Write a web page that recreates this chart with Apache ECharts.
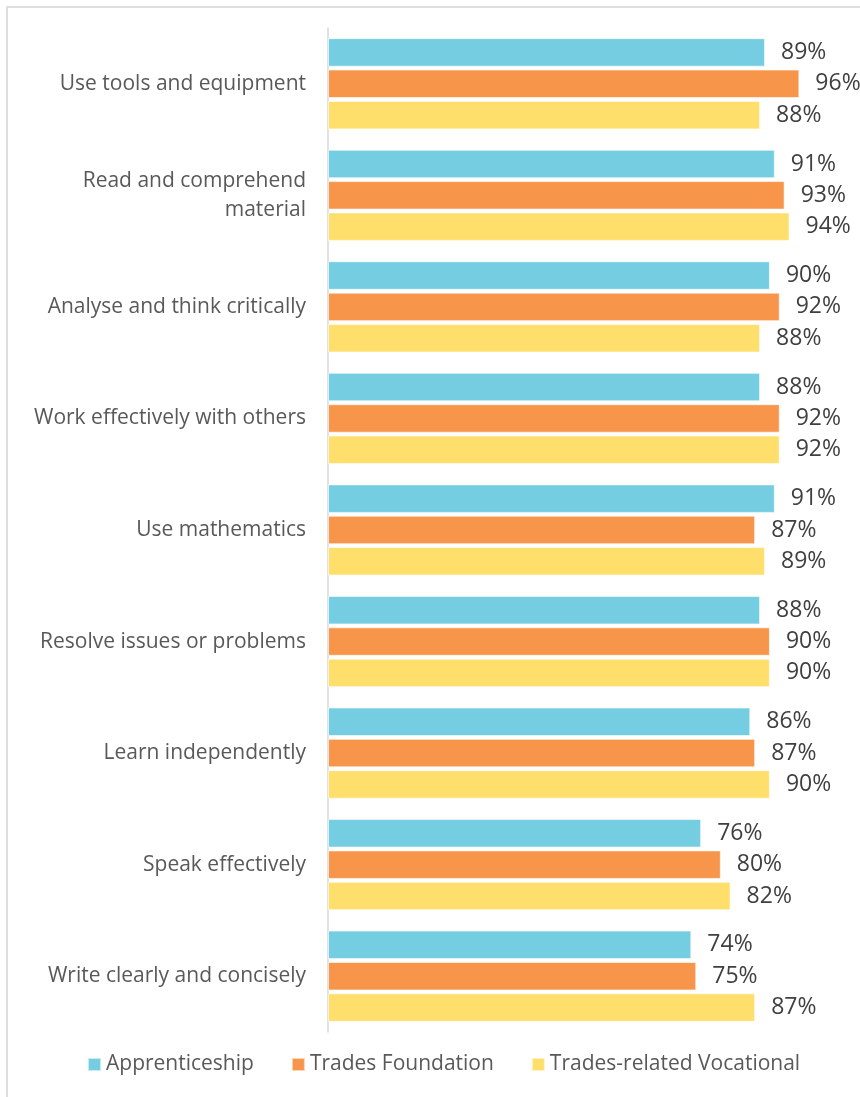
<!DOCTYPE html>
<html>
<head>
<meta charset="utf-8">
<title>Skills by programme</title>
<script src="https://cdn.jsdelivr.net/npm/echarts@6/dist/echarts.min.js"></script>
<style>
  html, body {
    margin: 0;
    padding: 0;
    background: #fff;
    overflow: hidden;
  }
  .frame {
    position: absolute;
    left: 6px;
    top: 6px;
    width: 1000px;
    height: 1200px;
    border: 2px solid #dedede;
  }
  #chart {
    position: absolute;
    left: 0;
    top: 0;
    width: 860px;
    height: 1097px;
  }
</style>
</head>
<body>
<div class="frame"></div>
<div id="chart"></div>
<script>
  // skills, top to bottom as shown
  var categories = [
    'Use tools and equipment',
    'Read and comprehend\nmaterial',
    'Analyse and think critically',
    'Work effectively with others',
    'Use mathematics',
    'Resolve issues or problems',
    'Learn independently',
    'Speak effectively',
    'Write clearly and concisely'
  ];
  var seriesNames = ['Apprenticeship', 'Trades Foundation', 'Trades-related Vocational'];
  var apprenticeship = [89, 91, 90, 88, 91, 88, 86, 76, 74];
  var tradesFoundation = [96, 93, 92, 92, 87, 90, 87, 80, 75];
  var tradesVocational = [88, 94, 88, 92, 89, 90, 90, 82, 87];
  var colors = ['#74CDE1', '#F7964A', '#FFDF6C'];

  var fontName = '"Open Sans", "Noto Sans", sans-serif';

  function barSeries(name, data) {
    return {
      name: name,
      type: 'bar',
      barWidth: 28.5,
      barGap: '10%',
      data: data,
      itemStyle: {
        borderColor: 'rgba(255,255,255,0.6)',
        borderWidth: 1
      },
      label: {
        show: true,
        position: 'right',
        distance: 16,
        formatter: '{c}%',
        color: '#404040',
        fontFamily: fontName,
        fontSize: 23
      }
    };
  }

  var myChart = echarts.init(document.getElementById('chart'));
  var option = {
    animation: false,
    color: colors,
    textStyle: { fontFamily: fontName },
    grid: {
      left: 328,
      right: 41,
      top: 28,
      bottom: 65
    },
    legend: {
      data: seriesNames,
      left: 87,
      top: 1054,
      padding: 0,
      icon: 'rect',
      itemWidth: 13,
      itemHeight: 13,
      itemGap: 37,
      textStyle: {
        color: '#595959',
        fontFamily: fontName,
        fontSize: 21
      }
    },
    xAxis: {
      type: 'value',
      min: 0,
      max: 100,
      show: false
    },
    yAxis: {
      type: 'category',
      inverse: true,
      data: categories,
      axisLine: {
        show: true,
        lineStyle: { color: '#d9d9d9', width: 1.5 }
      },
      axisTick: { show: false },
      axisLabel: {
        margin: 22,
        color: '#595959',
        fontFamily: fontName,
        fontSize: 21,
        lineHeight: 29,
        align: 'right'
      }
    },
    series: [
      barSeries(seriesNames[0], apprenticeship),
      barSeries(seriesNames[1], tradesFoundation),
      barSeries(seriesNames[2], tradesVocational)
    ]
  };
  myChart.setOption(option);
</script>
</body>
</html>
